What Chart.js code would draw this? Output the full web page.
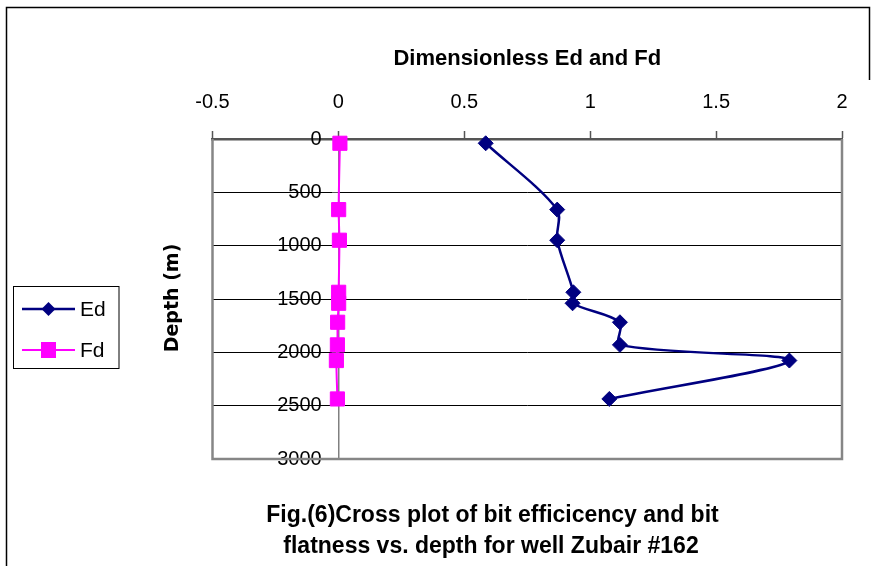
<!DOCTYPE html>
<html>
<head>
<meta charset="utf-8">
<script src="https://cdn.jsdelivr.net/npm/chart.js@4.4.1/dist/chart.umd.min.js"></script>
<style>
  html, body { margin: 0; padding: 0; background: #fff; }
  #wrap { position: relative; width: 872px; height: 566px; }
</style>
</head>
<body>
<div id="wrap"><canvas id="depthChart"></canvas></div>
<script>
// Depth (m) of each reading, shared by both series
const depths = [40, 662, 949, 1437, 1540, 1718, 1930, 2077, 2437];
// Dimensionless bit efficiency
const edValues = [0.585, 0.869, 0.869, 0.933, 0.930, 1.118, 1.118, 1.791, 1.076];
// Dimensionless bit flatness
const fdValues = [0.006, 0.001, 0.004, 0.001, 0.001, -0.003, -0.004, -0.008, -0.004];
const seriesNames = ['Ed', 'Fd'];
const xTitle = 'Dimensionless Ed and Fd';
const yTitle = 'Depth (m)';
const caption = ['Fig.(6)Cross plot of bit efficicency and bit', 'flatness vs. depth for well Zubair #162'];

const toPoints = (vals) => vals.map((v, i) => ({ x: v, y: depths[i] }));

Chart.defaults.font.family = 'Liberation Sans, Arial, sans-serif';
Chart.defaults.color = '#000';

// Frame, outer border, legend box, rotated y title and caption
const decorations = {
    id: 'decorations',
    beforeDatasetsDraw(chart) {
        const { ctx, chartArea: a } = chart;
        ctx.save();
        ctx.strokeStyle = '#868686';
        ctx.lineWidth = 2.5;
        ctx.beginPath();
        ctx.moveTo(a.left, a.top);
        ctx.lineTo(a.left, a.bottom);
        ctx.lineTo(a.right, a.bottom);
        ctx.lineTo(a.right, a.top);
        ctx.stroke();
        ctx.restore();
    },
    afterDraw(chart) {
        const { ctx } = chart;
        ctx.save();
        // outer border
        ctx.strokeStyle = '#000';
        ctx.lineWidth = 1.5;
        ctx.beginPath();
        ctx.moveTo(6.5, 566);
        ctx.lineTo(6.5, 7.5);
        ctx.lineTo(869.5, 7.5);
        ctx.lineTo(869.5, 80);
        ctx.stroke();

        // legend
        ctx.lineWidth = 1;
        ctx.strokeRect(13.5, 286.5, 105.5, 82);
        const rows = [309, 350];
        chart.data.datasets.forEach((ds, i) => {
            const y = rows[i];
            ctx.strokeStyle = ds.borderColor;
            ctx.lineWidth = ds.borderWidth;
            ctx.beginPath();
            ctx.moveTo(22, y);
            ctx.lineTo(75, y);
            ctx.stroke();
            ctx.fillStyle = ds.backgroundColor;
            ctx.beginPath();
            if (ds.pointStyle === 'rectRot') {
                ctx.moveTo(48.5, y - 7);
                ctx.lineTo(55.5, y);
                ctx.lineTo(48.5, y + 7);
                ctx.lineTo(41.5, y);
            } else {
                ctx.rect(41, y - 8, 15, 16);
            }
            ctx.closePath();
            ctx.fill();
            ctx.fillStyle = '#000';
            ctx.font = '21px Liberation Sans';
            ctx.textBaseline = 'middle';
            ctx.textAlign = 'left';
            ctx.fillText(ds.label, 80, y + 1);
        });

        // y title
        ctx.save();
        ctx.translate(173, 298);
        ctx.rotate(-Math.PI / 2);
        ctx.font = 'bold 19px DejaVu Sans';
        ctx.textAlign = 'center';
        ctx.textBaseline = 'middle';
        ctx.fillStyle = '#000';
        ctx.fillText(yTitle, 0, 0);
        ctx.restore();

        // caption
        ctx.font = 'bold 23px Liberation Sans';
        ctx.textAlign = 'center';
        ctx.textBaseline = 'alphabetic';
        ctx.fillStyle = '#000';
        ctx.fillText(caption[0], 492.5, 522);
        ctx.fillText(caption[1], 491, 553);
        ctx.restore();
    }
};

new Chart('depthChart', {
    type: 'scatter',
    data: {
        datasets: [
            {
                label: seriesNames[0],
                data: toPoints(edValues),
                showLine: true,
                tension: 0.3,
                borderColor: '#000080',
                backgroundColor: '#000080',
                borderWidth: 2.5,
                pointStyle: 'rectRot',
                pointRadius: 7.5,
                pointBorderWidth: 1,
                clip: false,
            },
            {
                label: seriesNames[1],
                data: toPoints(fdValues),
                showLine: true,
                tension: 0.3,
                borderColor: '#FF00FF',
                backgroundColor: '#FF00FF',
                borderWidth: 2,
                pointStyle: 'rect',
                pointRadius: 10,
                pointBorderWidth: 1,
                clip: false,
            },
        ],
    },
    options: {
        responsive: true,
        maintainAspectRatio: false,
        animation: false,
        layout: { padding: { left: 212.5, right: 30, top: 0, bottom: 107 } },
        plugins: {
            legend: { display: false },
            tooltip: { enabled: false },
        },
        scales: {
            x: {
                type: 'linear',
                position: 'top',
                min: -0.5,
                max: 2,
                afterFit: (s) => { s.height = 139; },
                ticks: { stepSize: 0.5, padding: 17, font: { size: 20 }, callback: (v) => String(v) },
                grid: { drawOnChartArea: false, tickLength: 8, tickColor: '#555', tickWidth: 1.5 },
                border: { color: '#555', width: 2.5 },
                title: {
                    display: true,
                    text: xTitle,
                    font: { size: 22, weight: 'bold' },
                    padding: { top: 46, bottom: 0 },
                },
            },
            y: {
                type: 'linear',
                position: { x: 0 },
                reverse: true,
                min: 0,
                max: 3000,
                // labels sit left of the x = 0 axis line; trailing spaces give the gap
                ticks: { stepSize: 500, font: { size: 20 }, callback: (v) => String(v) + '   ' },
                grid: { color: '#000', lineWidth: 1, tickLength: 6, tickColor: '#555' },
                border: { color: '#808080', width: 1.5 },
            },
        },
    },
    plugins: [decorations],
});
</script>
</body>
</html>
